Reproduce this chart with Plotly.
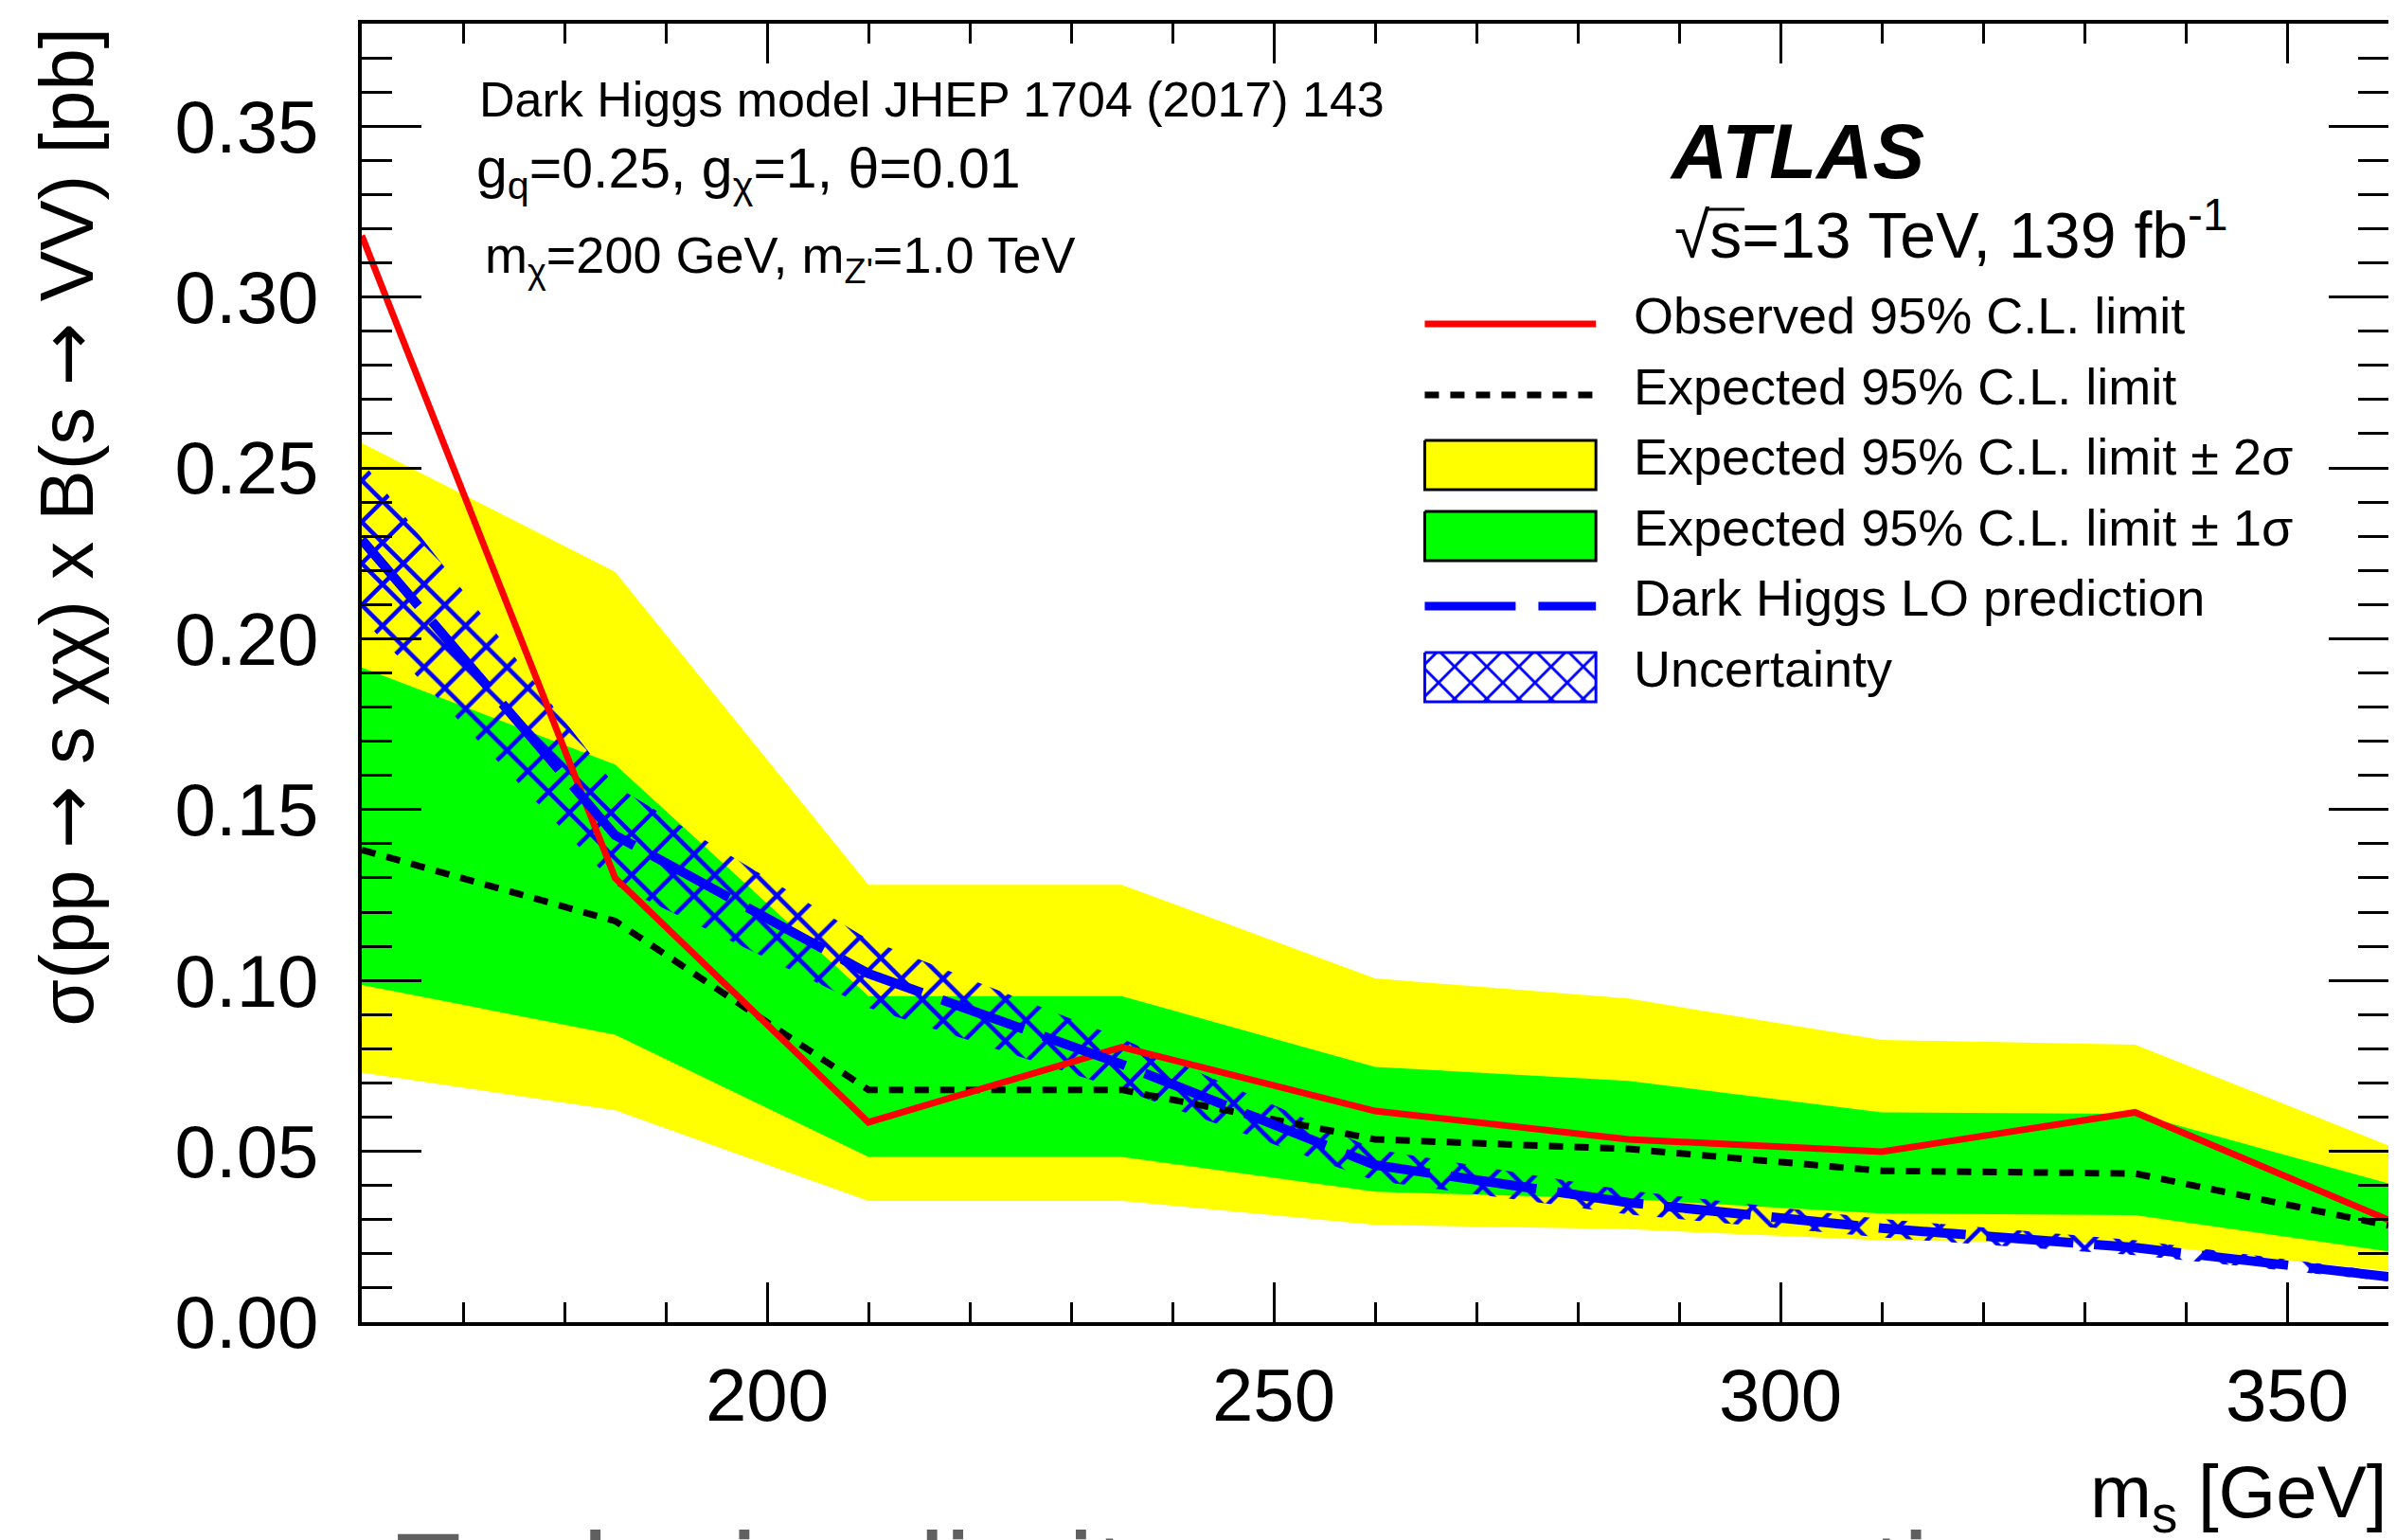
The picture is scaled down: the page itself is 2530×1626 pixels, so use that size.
import plotly.graph_objects as go

# ---------------- data ----------------
mass = [160, 185, 210, 235, 260, 285, 310, 335, 360]
observed = [0.318, 0.130, 0.0585, 0.0805, 0.0618, 0.0535, 0.0499, 0.0614, 0.0299]
expected = [0.1382, 0.1174, 0.0680, 0.0680, 0.0535, 0.0507, 0.0443, 0.0435, 0.0283]
exp_plus2 = [0.2573, 0.2196, 0.1280, 0.1280, 0.1006, 0.0947, 0.0826, 0.0812, 0.0517]
exp_plus1 = [0.1916, 0.1632, 0.0954, 0.0954, 0.0747, 0.0706, 0.0614, 0.0610, 0.0406]
exp_minus1 = [0.0987, 0.0841, 0.0484, 0.0484, 0.0382, 0.0360, 0.0318, 0.0313, 0.0207]
exp_minus2 = [0.0730, 0.0620, 0.0355, 0.0355, 0.0285, 0.0272, 0.0240, 0.0230, 0.0150]
lo_pred = [0.2290, 0.1425, 0.1020, 0.0755, 0.0460, 0.0350, 0.0275, 0.0218, 0.0133]
lo_up = [0.2520, 0.1570, 0.1120, 0.0830, 0.0506, 0.0385, 0.0302, 0.0240, 0.0146]
lo_down = [0.2060, 0.1280, 0.0920, 0.0680, 0.0414, 0.0315, 0.0248, 0.0196, 0.0120]

x_range = [160, 360]
y_range = [0.0, 0.38]
x_tick_vals = [200, 250, 300, 350]
y_tick_vals = [0.00, 0.05, 0.10, 0.15, 0.20, 0.25, 0.30, 0.35]

legend_labels = [
    "Observed 95% C.L. limit",
    "Expected 95% C.L. limit",
    "Expected 95% C.L. limit \u00b1 2\u03c3",
    "Expected 95% C.L. limit \u00b1 1\u03c3",
    "Dark Higgs LO prediction",
    "Uncertainty",
]

# ---------------- layout geometry (pixels of the 2530x1626 canvas) ----------------
W, H = 2530, 1626
L, R, T, B = 374, 2517, 17, 1388
FONT = "Liberation Sans, Arial, Helvetica, sans-serif"

YELLOW = "#ffff00"
GREEN = "#00ff00"
RED = "#ff0000"
BLUE = "#0000ff"


def px(xp):
    return (xp - L) / (R - L)


def py(yp):
    return (B - yp) / (B - T)


fig = go.Figure()

# 2 sigma band
fig.add_trace(go.Scatter(x=mass, y=exp_minus2, mode="lines", line=dict(width=0),
                         showlegend=False, hoverinfo="skip"))
fig.add_trace(go.Scatter(x=mass, y=exp_plus2, mode="lines", line=dict(width=0),
                         fill="tonexty", fillcolor=YELLOW, showlegend=False))
# 1 sigma band
fig.add_trace(go.Scatter(x=mass, y=exp_minus1, mode="lines", line=dict(width=0),
                         showlegend=False, hoverinfo="skip"))
fig.add_trace(go.Scatter(x=mass, y=exp_plus1, mode="lines", line=dict(width=0),
                         fill="tonexty", fillcolor=GREEN, showlegend=False))
# theory uncertainty (hatched)
fig.add_trace(go.Scatter(x=mass, y=lo_down, mode="lines", line=dict(width=0),
                         showlegend=False, hoverinfo="skip"))
fig.add_trace(go.Scatter(x=mass, y=lo_up, mode="lines", line=dict(width=0),
                         fill="tonexty", fillcolor="rgba(0,0,0,0)",
                         fillpattern=dict(shape="x", fgcolor=BLUE, fgopacity=1,
                                          bgcolor="rgba(0,0,0,0)",
                                          size=31, solidity=0.27, fillmode="overlay"),
                         showlegend=False))
# expected
fig.add_trace(go.Scatter(x=mass, y=expected, mode="lines",
                         line=dict(color="black", width=7, dash="15px,12px"),
                         showlegend=False))
# observed
fig.add_trace(go.Scatter(x=mass, y=observed, mode="lines",
                         line=dict(color=RED, width=7), showlegend=False))
# LO prediction
fig.add_trace(go.Scatter(x=mass, y=lo_pred, mode="lines",
                         line=dict(color=BLUE, width=10, dash="92px,22px"),
                         showlegend=False))

# ---------------- hand-drawn legend (overlay pixel axes) ----------------
sym_x0, sym_x1 = 1498, 1679
entry_y = [334, 409, 483, 558, 632, 707]
box_h = 26

fig.add_trace(go.Scatter(x=[sym_x0, sym_x1], y=[entry_y[0]] * 2, xaxis="x2", yaxis="y2",
                         mode="lines", line=dict(color=RED, width=7), showlegend=False))
fig.add_trace(go.Scatter(x=[sym_x0, sym_x1], y=[entry_y[1]] * 2, xaxis="x2", yaxis="y2",
                         mode="lines", line=dict(color="black", width=7, dash="15px,12px"),
                         showlegend=False))
for yc, col in [(entry_y[2], YELLOW), (entry_y[3], GREEN)]:
    fig.add_trace(go.Scatter(x=[sym_x0, sym_x1, sym_x1, sym_x0, sym_x0],
                             y=[yc - box_h, yc - box_h, yc + box_h, yc + box_h, yc - box_h],
                             xaxis="x2", yaxis="y2", mode="lines", fill="toself",
                             fillcolor=col, line=dict(color="black", width=3),
                             showlegend=False))
fig.add_trace(go.Scatter(x=[sym_x0, sym_x1], y=[entry_y[4]] * 2, xaxis="x2", yaxis="y2",
                         mode="lines", line=dict(color=BLUE, width=9, dash="96px,24px"),
                         showlegend=False))
yc = entry_y[5]
fig.add_trace(go.Scatter(x=[sym_x0, sym_x1, sym_x1, sym_x0, sym_x0],
                         y=[yc - box_h, yc - box_h, yc + box_h, yc + box_h, yc - box_h],
                         xaxis="x2", yaxis="y2", mode="lines", fill="toself",
                         fillcolor="rgba(0,0,0,0)",
                         fillpattern=dict(shape="x", fgcolor=BLUE, fgopacity=1,
                                          bgcolor="rgba(0,0,0,0)",
                                          size=24, solidity=0.23, fillmode="overlay"),
                         line=dict(color=BLUE, width=3), showlegend=False))

annotations = []
for lab, yc in zip(legend_labels, entry_y):
    annotations.append(dict(text=lab, x=px(1717), y=py(yc - 9), xanchor="left",
                            yanchor="middle",
                            font=dict(family=FONT, size=54, color="black")))

ARROW = "<span style='font-family:DejaVu Sans'>\u2192</span>"

# model text
annotations += [
    dict(text="Dark Higgs model JHEP 1704 (2017) 143", x=px(496), y=py(97),
         xanchor="left", yanchor="middle", font=dict(family=FONT, size=52, color="black")),
    dict(text="g<sub>q</sub>=0.25, g<sub>\u03c7</sub>=1, \u03b8=0.01", x=px(493), y=py(174),
         xanchor="left", yanchor="middle", font=dict(family=FONT, size=59, color="black")),
    dict(text="m<sub>\u03c7</sub>=200 GeV, m<sub>Z'</sub>=1.0 TeV", x=px(502), y=py(265),
         xanchor="left", yanchor="middle", font=dict(family=FONT, size=54, color="black")),
    dict(text="<b><i>ATLAS</i></b>", x=px(1755), y=py(152),
         xanchor="left", yanchor="middle", font=dict(family=FONT, size=82, color="black")),
    dict(text="\u221as=13 TeV, 139 fb<sup>-1</sup>",
         x=px(1760), y=py(235), xanchor="left", yanchor="middle",
         font=dict(family=FONT, size=68, color="black")),
    # axis titles
    dict(text="m<sub>s</sub> [GeV]", x=px(2517), y=py(1572), xanchor="right", yanchor="middle",
         font=dict(family=FONT, size=78, color="black")),
    dict(text="\u03c3(pp " + ARROW + " s \u03c7\u03c7) x B(s " + ARROW + " VV) [pb]",
         x=px(62), y=py(19), xanchor="center", yanchor="top", textangle=-90,
         font=dict(family=FONT, size=80, color="black")),
    # caption partially visible at the bottom
    dict(text="Exclusion limits on cross section", x=px(400), y=py(1654),
         xanchor="left", yanchor="middle",
         font=dict(family=FONT, size=123, color="#606060")),
]
for a in annotations:
    a.setdefault("xref", "paper")
    a.setdefault("yref", "paper")
    a["showarrow"] = False

# overline of the square-root sign (sqrt{s})
shapes = [dict(type="line", xref="x2", yref="y2", x0=1798, x1=1836, y0=213, y1=213,
               line=dict(color="black", width=3))]

axis_common = dict(
    showline=True, linecolor="black", linewidth=4, mirror="allticks",
    ticks="inside", tickcolor="black", tickwidth=3,
    showgrid=False, zeroline=False,
    tickfont=dict(family=FONT, size=78, color="black"),
)

fig.update_layout(
    width=W, height=H,
    margin=dict(l=L, r=W - R, t=T, b=H - B, pad=0),
    paper_bgcolor="white", plot_bgcolor="white",
    showlegend=False,
    xaxis=dict(range=x_range, tickvals=x_tick_vals, ticklen=42,
               minor=dict(dtick=10, tick0=0, ticklen=21, tickwidth=3, tickcolor="black",
                          ticks="inside", showgrid=False),
               ticklabelstandoff=6, **axis_common),
    yaxis=dict(range=y_range, tickvals=y_tick_vals, tickformat=".2f", ticklen=63,
               minor=dict(dtick=0.01, tick0=0, ticklen=32, tickwidth=3, tickcolor="black",
                          ticks="inside", showgrid=False),
               ticklabelstandoff=26, **axis_common),
    xaxis2=dict(overlaying="x", range=[L, R], visible=False, fixedrange=True),
    yaxis2=dict(overlaying="y", range=[B, T], visible=False, fixedrange=True),
    annotations=annotations,
    shapes=shapes,
)

fig.write_html("out.html")
